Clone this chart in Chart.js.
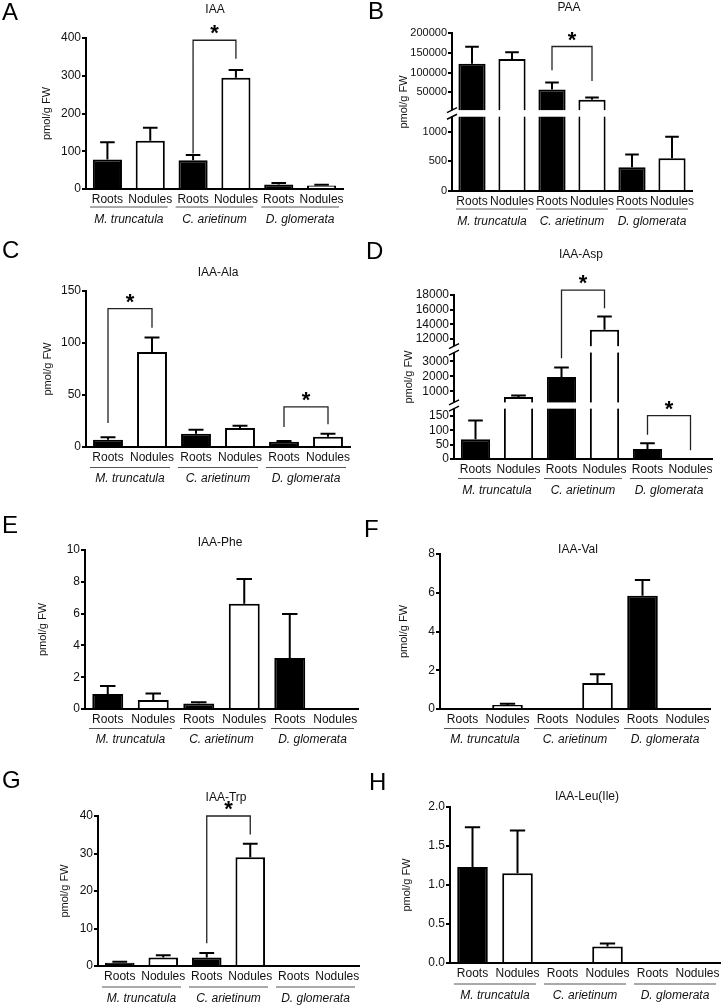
<!DOCTYPE html>
<html>
<head>
<meta charset="utf-8">
<script src="https://cdn.jsdelivr.net/npm/chart.js@4.4.0/dist/chart.umd.min.js"></script>
<style>
    body { margin: 0; background: #fff; }
    #figura { position: relative; width: 723px; height: 1007px; overflow: hidden; }
    #figura canvas { position: absolute; }
</style>
</head>
<body>
<div id="figura">
    <canvas id="painel-a"></canvas>
    <canvas id="painel-b"></canvas>
    <canvas id="painel-c"></canvas>
    <canvas id="painel-d"></canvas>
    <canvas id="painel-e"></canvas>
    <canvas id="painel-f"></canvas>
    <canvas id="painel-g"></canvas>
    <canvas id="painel-h"></canvas>
</div>
<script>
const FONTE = '"Liberation Sans", Arial, Helvetica, sans-serif';

// Categorias do eixo x
const categorias = ['Roots', 'Nodules', 'Roots', 'Nodules', 'Roots', 'Nodules'];
const especies = ['M. truncatula', 'C. arietinum', 'D. glomerata'];

// A - IAA (média e erro, pmol/g FW)
const iaaMedia = [78, 128, 76, 295, 12, 9];
const iaaErro = [46, 34, 14, 20, 4, 2];
const iaaSig = [{ a: 2, b: 3, topo: 394, baseA: 94, baseB: 345 }];

// B - PAA (eixo quebrado)
const paaMedia = [122000, 134000, 57000, 31000, 400, 550];
const paaErro = [43000, 17000, 17500, 6000, 215, 365];
const paaTicks = [0, 500, 1000, 50000, 100000, 150000, 200000];
const paaSig = [{ a: 2, b: 3, topo: 165800, baseA: 105800, baseB: 78300 }];

// C - IAA-Ala
const alaMedia = [7, 91.3, 12.8, 18.3, 5.1, 9.9];
const alaErro = [2.3, 14.1, 3.9, 2.2, 0.7, 2.9];
const alaSig = [
    { a: 0, b: 1, topo: 133, baseA: 23, baseB: 114.7 },
    { a: 4, b: 5, topo: 38.5, baseA: 19.2, baseB: 21.8 }
];

// D - IAA-Asp (eixo quebrado duas vezes)
const aspMedia = [69, 610, 1960, 13230, 35, 0];
const aspErro = [65, 100, 640, 1820, 20, 0];
const aspTicks = [0, 50, 100, 150, 1000, 2000, 3000, 12000, 14000, 16000, 18000];
const aspSig = [
    { a: 2, b: 3, topo: 18680, baseA: 3220, baseB: 16180 },
    { a: 4, b: 5, topo: 151, baseA: 84, baseB: 30 }
];

// E - IAA-Phe
const pheMedia = [0.95, 0.57, 0.34, 6.62, 3.21, 0];
const pheErro = [0.5, 0.4, 0.08, 1.55, 2.76, 0];

// F - IAA-Val
const valMedia = [0, 0.21, 0, 1.34, 5.84, 0];
const valErro = [0, 0.06, 0, 0.45, 0.82, 0];

// G - IAA-Trp
const trpMedia = [0.9, 2.3, 2.3, 29.0, 0, 0];
const trpErro = [0.25, 0.55, 1.2, 3.6, 0, 0];
const trpSig = [{ a: 2, b: 3, topo: 40, baseA: 6.1, baseB: 35.1 }];

// H - IAA-Leu(Ile)
const leuMedia = [1.23, 1.15, 0, 0.21, 0, 0];
const leuErro = [0.51, 0.55, 0, 0.04, 0, 0];

// Configuração de cada painel (posição na figura e área do gráfico)
const paineis = [
    { id: 'painel-a', letra: 'A', titulo: 'IAA', media: iaaMedia, erro: iaaErro, sig: iaaSig,
      x0: 0, y0: 0, w: 370, h: 240, area: [86, 38, 343, 189], max: 400, passo: 100,
      tituloPos: [215, 10], yTituloX: 47, letraPos: [2, 20], dyLinha: 17.5, dyEspecie: 31 },
    { id: 'painel-b', letra: 'B', titulo: 'PAA', media: paaMedia, erro: paaErro, sig: paaSig,
      x0: 362, y0: 0, w: 361, h: 240, area: [90, 33, 330, 191], ticks: paaTicks, fonteTick: 11,
      segmentos: [
          { min: 0, max: 1250, de: 0, ate: 0.47 },
          { min: 5000, max: 200000, de: 0.512, ate: 1 }
      ],
      tituloPos: [207, 8], yTituloX: 42, yTituloY: 102, letraPos: [6, 19], dyLinha: 17.5, dyEspecie: 31 },
    { id: 'painel-c', letra: 'C', titulo: 'IAA-Ala', media: alaMedia, erro: alaErro, sig: alaSig,
      x0: 0, y0: 240, w: 370, h: 250, area: [86, 51, 350, 207], max: 150, passo: 50,
      tituloPos: [218, 33], yTituloX: 48, letraPos: [2, 18], dyLinha: 20, dyEspecie: 32 },
    { id: 'painel-d', letra: 'D', titulo: 'IAA-Asp', media: aspMedia, erro: aspErro, sig: aspSig,
      x0: 362, y0: 240, w: 361, h: 262, area: [92, 55, 350, 219], ticks: aspTicks,
      segmentos: [
          { min: 0, max: 175, de: 0, ate: 0.307 },
          { min: 250, max: 3600, de: 0.345, ate: 0.649 },
          { min: 11000, max: 18000, de: 0.688, ate: 1 }
      ],
      tituloPos: [219, 15], yTituloX: 47, letraPos: [4, 19], dyLinha: 19, dyEspecie: 32 },
    { id: 'painel-e', letra: 'E', titulo: 'IAA-Phe', media: pheMedia, erro: pheErro, sig: [],
      x0: 0, y0: 480, w: 370, h: 275, area: [85, 70, 358, 229], max: 10, passo: 2,
      tituloPos: [220, 63], yTituloX: 43, letraPos: [2, 53], dyLinha: 19, dyEspecie: 31 },
    { id: 'painel-f', letra: 'F', titulo: 'IAA-Val', media: valMedia, erro: valErro, sig: [],
      x0: 362, y0: 480, w: 361, h: 275, area: [78, 74, 348, 229], max: 8, passo: 2,
      tituloPos: [216, 70], yTituloX: 42, letraPos: [2, 57], dyLinha: 19, dyEspecie: 31 },
    { id: 'painel-g', letra: 'G', titulo: 'IAA-Trp', media: trpMedia, erro: trpErro, sig: trpSig,
      x0: 0, y0: 735, w: 370, h: 272, area: [98, 81, 359, 231], max: 40, passo: 10,
      tituloPos: [226, 63], yTituloX: 65, letraPos: [2, 53], dyLinha: 20.5, dyEspecie: 32.5 },
    { id: 'painel-h', letra: 'H', titulo: 'IAA-Leu(Ile)', media: leuMedia, erro: leuErro, sig: [],
      x0: 362, y0: 735, w: 361, h: 272, area: [88, 72, 358, 228], max: 2, passo: 0.5, decimais: 1,
      tituloPos: [225, 62], yTituloX: 45, letraPos: [7, 55], dyLinha: 20.5, dyEspecie: 32.5 }
];

const paineisPorId = {};
paineis.forEach(p => { paineisPorId[p.id] = p; });

// Escala linear com quebras (estilo Prism)
class EscalaQuebrada extends Chart.LinearScale {
    static id = 'quebrada';
    static defaults = Chart.LinearScale.defaults;

    determineDataLimits() {
        const seg = paineisPorId[this.chart.canvas.id].segmentos;
        this.min = seg[0].min;
        this.max = seg[seg.length - 1].max;
    }

    buildTicks() {
        return paineisPorId[this.chart.canvas.id].ticks.map(v => ({ value: v }));
    }

    getPixelForValue(v) {
        const seg = paineisPorId[this.chart.canvas.id].segmentos;
        let s = seg[seg.length - 1];
        for (const t of seg) {
            if (v <= t.max) { s = t; break; }
        }
        const f = s.de + (Math.max(v, s.min) - s.min) / (s.max - s.min) * (s.ate - s.de);
        return this.bottom - f * (this.bottom - this.top);
    }
}
Chart.register(EscalaQuebrada);

// Barras de erro, quebras, colchetes de significância e rótulos
function decoracao(p) {
    return {
        id: 'decoracao',
        afterDatasetsDraw(chart) {
            const ctx = chart.ctx;
            const y = chart.scales.y;
            const barras = chart.getDatasetMeta(0).data;
            ctx.save();
            ctx.strokeStyle = '#000';
            ctx.lineWidth = 2;
            barras.forEach((barra, i) => {
                const e = p.erro[i];
                if (!e) return;
                const yTopo = y.getPixelForValue(p.media[i] + e);
                const meia = barra.width * 0.25;
                ctx.beginPath();
                ctx.moveTo(barra.x, barra.y);
                ctx.lineTo(barra.x, yTopo);
                ctx.moveTo(barra.x - meia, yTopo);
                ctx.lineTo(barra.x + meia, yTopo);
                ctx.stroke();
            });
            ctx.restore();
        },
        afterDraw(chart) {
            const ctx = chart.ctx;
            const a = chart.chartArea;
            const x = chart.scales.x;
            const y = chart.scales.y;
            const barras = chart.getDatasetMeta(0).data;
            const altura = a.bottom - a.top;
            ctx.save();

            // Quebras do eixo
            if (p.segmentos) {
                for (let i = 0; i < p.segmentos.length - 1; i++) {
                    const yBaixo = a.bottom - p.segmentos[i].ate * altura;
                    const yCima = a.bottom - p.segmentos[i + 1].de * altura;
                    ctx.fillStyle = '#fff';
                    ctx.fillRect(a.left - 1.5, yCima, a.right - a.left + 1.5, yBaixo - yCima);
                    ctx.strokeStyle = '#000';
                    ctx.lineWidth = 1.5;
                    [yBaixo, yCima].forEach(yy => {
                        ctx.beginPath();
                        ctx.moveTo(a.left - 5, yy + 2.5);
                        ctx.lineTo(a.left + 5, yy - 2.5);
                        ctx.stroke();
                    });
                }
            }

            // Colchetes de significância
            p.sig.forEach(s => {
                const xa = barras[s.a].x;
                const xb = barras[s.b].x;
                const yt = y.getPixelForValue(s.topo);
                ctx.strokeStyle = '#222';
                ctx.lineWidth = 1.3;
                ctx.beginPath();
                ctx.moveTo(xa, y.getPixelForValue(s.baseA));
                ctx.lineTo(xa, yt);
                ctx.lineTo(xb, yt);
                ctx.lineTo(xb, y.getPixelForValue(s.baseB));
                ctx.stroke();
                ctx.fillStyle = '#000';
                ctx.font = 'bold 22px ' + FONTE;
                ctx.textAlign = 'center';
                ctx.textBaseline = 'alphabetic';
                ctx.fillText('*', (xa + xb) / 2, yt);
            });

            // Linhas e nomes das espécies
            const passo = x.getPixelForValue(1) - x.getPixelForValue(0);
            especies.forEach((nome, g) => {
                const xi = x.getPixelForValue(2 * g) - passo / 2 + 4;
                const xf = x.getPixelForValue(2 * g + 1) + passo / 2 - 4;
                const yl = a.bottom + p.dyLinha + 0.5;
                ctx.strokeStyle = '#555';
                ctx.lineWidth = 1;
                ctx.beginPath();
                ctx.moveTo(xi, yl);
                ctx.lineTo(xf, yl);
                ctx.stroke();
                ctx.fillStyle = '#111';
                ctx.font = 'italic 12px ' + FONTE;
                ctx.textAlign = 'center';
                ctx.textBaseline = 'middle';
                ctx.fillText(nome, (xi + xf) / 2, a.bottom + p.dyEspecie);
            });

            // Título, eixo y e letra do painel
            ctx.fillStyle = '#111';
            ctx.font = '12px ' + FONTE;
            ctx.textAlign = 'center';
            ctx.textBaseline = 'middle';
            ctx.fillText(p.titulo, p.tituloPos[0], p.tituloPos[1]);

            ctx.font = '11px ' + FONTE;
            ctx.save();
            ctx.translate(p.yTituloX, p.yTituloY || (a.top + a.bottom) / 2);
            ctx.rotate(-Math.PI / 2);
            ctx.fillText('pmol/g FW', 0, 0);
            ctx.restore();

            ctx.font = '24px ' + FONTE;
            ctx.textAlign = 'left';
            ctx.textBaseline = 'alphabetic';
            ctx.fillStyle = '#000';
            ctx.fillText(p.letra, p.letraPos[0], p.letraPos[1]);

            ctx.restore();
        }
    };
}

function criarPainel(p) {
    const canvas = document.getElementById(p.id);
    canvas.width = p.w;
    canvas.height = p.h;
    canvas.style.left = p.x0 + 'px';
    canvas.style.top = p.y0 + 'px';

    const [L, T, R, B] = p.area;
    const larguraY = 60;
    const alturaX = 20;

    const formato = v => p.decimais ? Number(v).toFixed(p.decimais) : String(v);
    const escalaY = p.segmentos
        ? { type: 'quebrada' }
        : { type: 'linear', min: 0, max: p.max, ticks: { stepSize: p.passo } };

    new Chart(canvas, {
        type: 'bar',
        data: {
            labels: categorias,
            datasets: [{
                data: p.media,
                backgroundColor: categorias.map(c => c === 'Roots' ? '#000' : '#fff'),
                borderColor: '#000',
                borderWidth: 2,
                borderSkipped: 'start',
                barPercentage: 0.68,
                categoryPercentage: 1
            }]
        },
        options: {
            responsive: false,
            animation: false,
            devicePixelRatio: 1,
            events: [],
            layout: {
                padding: { left: L - larguraY, top: T, right: p.w - R, bottom: p.h - B - alturaX }
            },
            plugins: {
                legend: { display: false },
                tooltip: { enabled: false }
            },
            scales: {
                x: {
                    grid: { display: false, drawTicks: false },
                    border: { display: true, color: '#000', width: 2, z: 1 },
                    ticks: {
                        color: '#111', font: { family: FONTE, size: 12 },
                        padding: 3, maxRotation: 0, autoSkip: false
                    },
                    afterFit: s => { s.height = alturaX; }
                },
                y: {
                    ...escalaY,
                    grid: {
                        display: true, drawOnChartArea: false, drawTicks: true,
                        tickLength: 4, color: '#000', lineWidth: 2
                    },
                    border: { display: true, color: '#000', width: 2, z: 1 },
                    ticks: {
                        ...(escalaY.ticks || {}),
                        color: '#111', font: { family: FONTE, size: p.fonteTick || 12 },
                        padding: 1, autoSkip: false, callback: formato
                    },
                    afterFit: s => { s.width = larguraY; }
                }
            }
        },
        plugins: [decoracao(p)]
    });
}

// Inicialização
paineis.forEach(criarPainel);
</script>
</body>
</html>
